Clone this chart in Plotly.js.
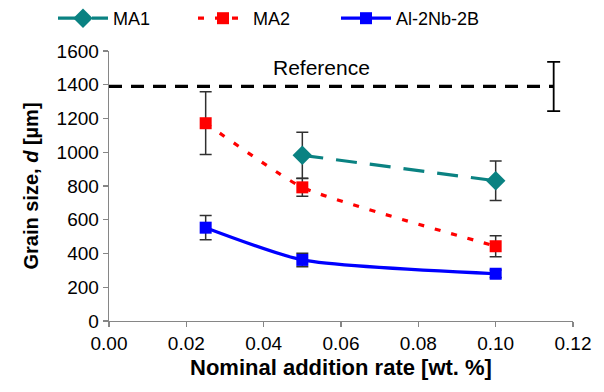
<!DOCTYPE html>
<html>
<head>
<meta charset="utf-8">
<script src="https://cdn.plot.ly/plotly-3.0.1.min.js"></script>
<style>html,body{margin:0;padding:0;background:#fff;}#chart{width:604px;height:392px;}</style>
</head>
<body>
<div id="chart"></div>
<script>
// Data
const ma1X = [0.05, 0.10];
const ma1Y = [982, 831];
const ma1Err = [136, 117];

const ma2X = [0.025, 0.05, 0.10];
const ma2Y = [1172, 792, 443];
const ma2Err = [186, 52, 62];

const nbX = [0.025, 0.05, 0.10];
const nbY = [553, 362, 280];
const nbErr = [72, 40, 22];

const refLineX = [0, 0.115];
const refValue = 1390;
const refErrX = [0.115];
const refErr = [146];
const refLabel = "Reference";

const xTicks = [0, 0.02, 0.04, 0.06, 0.08, 0.10, 0.12];
const xTickText = ["0.00", "0.02", "0.04", "0.06", "0.08", "0.10", "0.12"];
const yTicks = [0, 200, 400, 600, 800, 1000, 1200, 1400, 1600];

const errStyle = (arr) => ({type: 'data', array: arr, visible: true, color: '#303030', thickness: 1.5, width: 6});
const font = "Liberation Sans, Arial, sans-serif";

const traces = [
  {
    x: ma1X, y: ma1Y, name: 'MA1', type: 'scatter', mode: 'lines+markers', legend: 'legend',
    line: {color: '#0a8282', width: 3.2, dash: '21px,13px', shape: 'spline', smoothing: 0.6},
    marker: {symbol: 'diamond', size: 15, color: '#0a8282'},
    error_y: errStyle(ma1Err)
  },
  {
    x: ma2X, y: ma2Y, name: 'MA2', type: 'scatter', mode: 'lines+markers', legend: 'legend2',
    line: {color: '#ff0000', width: 3.2, dash: '6px,11px', shape: 'spline', smoothing: 0.45},
    marker: {symbol: 'square', size: 12, color: '#ff0000'},
    error_y: errStyle(ma2Err)
  },
  {
    x: nbX, y: nbY, name: 'Al-2Nb-2B', type: 'scatter', mode: 'lines+markers', legend: 'legend3',
    line: {color: '#0000ff', width: 3.2, shape: 'spline', smoothing: 0.6},
    marker: {symbol: 'square', size: 12, color: '#0000ff'},
    error_y: errStyle(nbErr)
  },
  {
    x: refLineX, y: refLineX.map(() => refValue), type: 'scatter', mode: 'lines',
    line: {color: '#000000', width: 3.2, dash: '13px,9px'}, showlegend: false, hoverinfo: 'skip'
  },
  {
    x: refErrX, y: refErrX.map(() => refValue), type: 'scatter', mode: 'markers',
    marker: {size: 1, color: 'rgba(0,0,0,0)'}, showlegend: false,
    error_y: {type: 'data', array: refErr, visible: true, color: '#000000', thickness: 1.8, width: 6.5}
  }
];

const legendBase = (xpx) => ({
  orientation: 'h', xref: 'container', yref: 'container',
  x: xpx / 604, xanchor: 'left', y: 1.0, yanchor: 'top',
  font: {family: font, size: 18, color: '#000'}, itemwidth: 50,
  bgcolor: 'rgba(0,0,0,0)'
});

const layout = {
  width: 604, height: 392,
  margin: {l: 109, r: 31, t: 51, b: 71},
  paper_bgcolor: '#ffffff', plot_bgcolor: '#ffffff',
  font: {family: font, size: 18, color: '#000000'},
  showlegend: true,
  legend: legendBase(53),
  legend2: legendBase(193),
  legend3: legendBase(336),
  xaxis: {
    range: [0, 0.12], tickvals: xTicks, ticktext: xTickText,
    showgrid: false, zeroline: false, showline: true, linecolor: '#868686', linewidth: 1.3,
    ticks: 'outside', ticklen: 5, tickcolor: '#868686', tickwidth: 1.3,
    tickfont: {family: font, size: 19, color: '#000'},
    title: {text: '<b>Nominal addition rate [wt. %]</b>', font: {family: font, size: 22, color: '#000'}, standoff: 6}
  },
  yaxis: {
    range: [0, 1600], tickvals: yTicks,
    showgrid: false, zeroline: false, showline: true, linecolor: '#868686', linewidth: 1.3,
    ticks: 'outside', ticklen: 5, tickcolor: '#868686', tickwidth: 1.3,
    tickfont: {family: font, size: 19, color: '#000'},
    title: {text: '<b>Grain size, <i>d</i> [µm]</b>', font: {family: font, size: 20, color: '#000'}, standoff: 12}
  },
  annotations: [{
    x: 0.055, y: 1505, xref: 'x', yref: 'y', text: refLabel, showarrow: false,
    font: {family: font, size: 21, color: '#000'}
  }]
};

Plotly.newPlot('chart', traces, layout, {displayModeBar: false, staticPlot: true});
</script>
</body>
</html>
